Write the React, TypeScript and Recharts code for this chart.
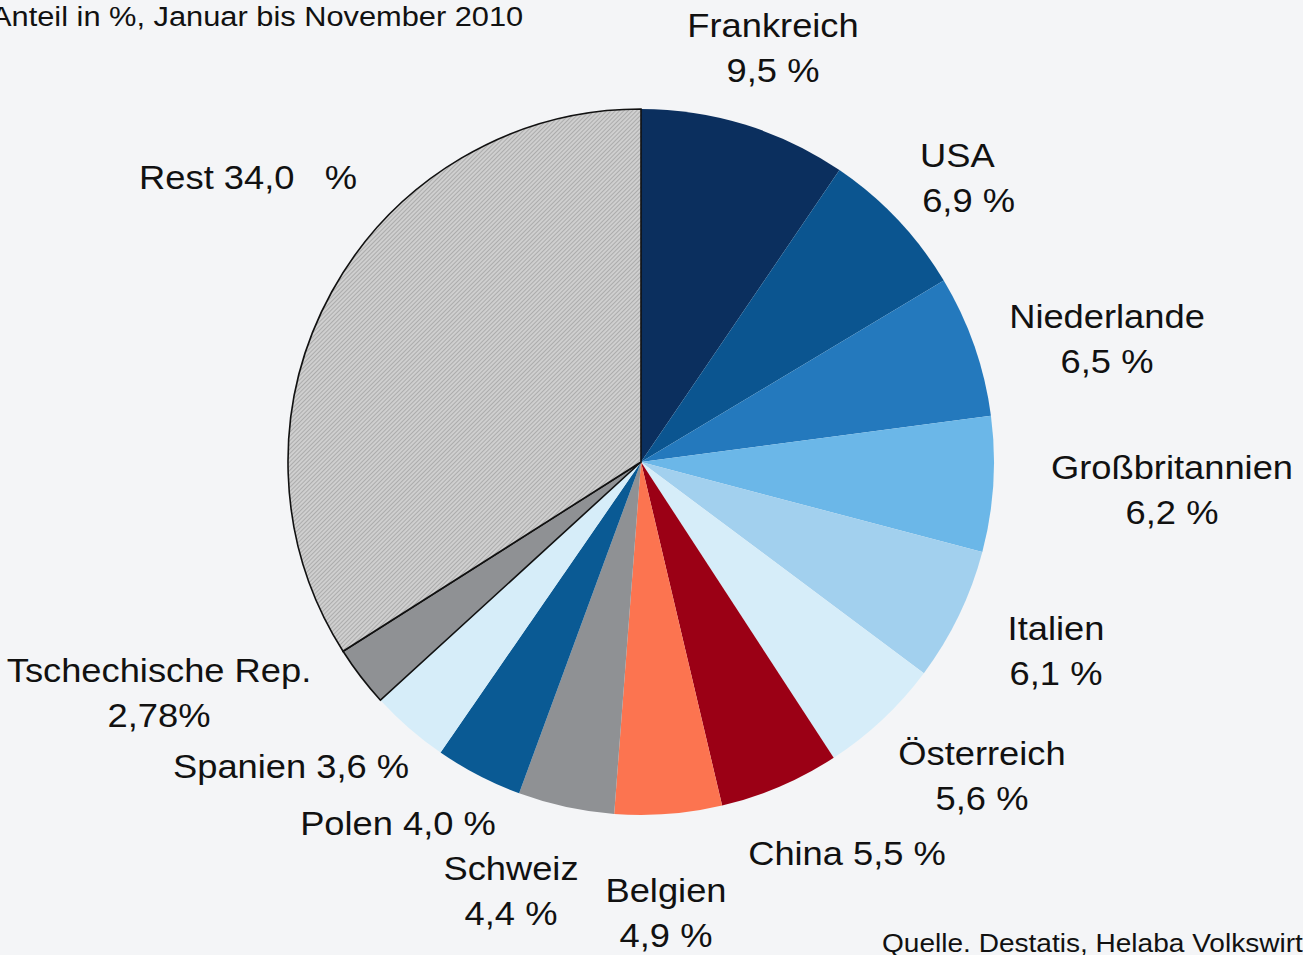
import { PieChart, Pie, Cell } from "recharts";

// Exportpartner, Anteil in %
const COUNTRIES = [
  "Frankreich",
  "USA",
  "Niederlande",
  "Großbritannien",
  "Italien",
  "Österreich",
  "China",
  "Belgien",
  "Schweiz",
  "Polen",
  "Spanien",
  "Tschechische Rep.",
  "Rest",
];
const SHARES = [9.5, 6.9, 6.5, 6.2, 6.1, 5.6, 5.5, 4.9, 4.4, 4.0, 3.6, 2.78, 34.0];
const SHARE_TEXT = [
  "9,5 %",
  "6,9 %",
  "6,5 %",
  "6,2 %",
  "6,1 %",
  "5,6 %",
  "5,5 %",
  "4,9 %",
  "4,4 %",
  "4,0 %",
  "3,6 %",
  "2,78%",
  "34,0\u00a0\u00a0 %",
];

const COLORS = [
  "#0b2f5e",
  "#0b5590",
  "#2479bd",
  "#6bb7e8",
  "#a2d0ee",
  "#d6edf9",
  "#9b0015",
  "#fc7450",
  "#8f9194",
  "#0a5a94",
  "#d6edf9",
  "#8f9194",
  "url(#restHatch)",
];
const OUTLINED = [false, false, false, false, false, false, false, false, false, false, false, true, true];

// label placement (page px): x, first baseline, anchor, one line or two
const LABEL_LAYOUT = [
  { x: 773, y: 37, anchor: "middle", inline: false },
  { x: 920, y: 167, anchor: "start", inline: false },
  { x: 1107, y: 328, anchor: "middle", inline: false },
  { x: 1172, y: 479, anchor: "middle", inline: false },
  { x: 1056, y: 640, anchor: "middle", inline: false },
  { x: 982, y: 765, anchor: "middle", inline: false },
  { x: 847, y: 865, anchor: "middle", inline: true },
  { x: 666, y: 902, anchor: "middle", inline: false },
  { x: 511, y: 880, anchor: "middle", inline: false },
  { x: 398, y: 835, anchor: "middle", inline: true },
  { x: 291, y: 778, anchor: "middle", inline: true },
  { x: 159, y: 682, anchor: "middle", inline: false },
  { x: 248, y: 189, anchor: "middle", inline: true },
];

const FONT = '"Liberation Sans", Arial, sans-serif';
const STRETCH = 1.1; // original type is a bit wide

const data = COUNTRIES.map((name, i) => ({ name, value: SHARES[i], share: SHARE_TEXT[i] }));

function renderLabel(props: any) {
  const i = props.index;
  const pos = LABEL_LAYOUT[i];
  const d = data[i];
  const common = {
    fill: "#111",
    fontFamily: FONT,
    fontSize: 33,
    textAnchor: pos.anchor,
  } as any;
  return (
    <g key={d.name} transform={`translate(${pos.x},${pos.y}) scale(${STRETCH},1)`}>
      {pos.inline ? (
        <text x={0} y={0} {...common}>
          {d.name + " " + d.share}
        </text>
      ) : (
        <text x={0} y={0} {...common}>
          <tspan x={0}>{d.name}</tspan>
          <tspan x={pos.anchor === "start" ? 2 : 0} dy={45}>
            {d.share}
          </tspan>
        </text>
      )}
    </g>
  );
}

export default function App() {
  return (
    <div style={{ position: "absolute", left: 0, top: 0, width: 1303, height: 955, background: "#f4f5f7" }}>
      <PieChart width={1303} height={955} margin={{ top: 0, right: 0, bottom: 0, left: 0 }}>
        <defs>
          <pattern id="restHatch" width="3" height="3" patternUnits="userSpaceOnUse" patternTransform="rotate(45)">
            <rect width="3" height="3" fill="#cfcfcf" />
            <line x1="0" y1="0" x2="0" y2="3" stroke="#949494" strokeWidth="1.2" />
          </pattern>
        </defs>
        <g transform={`translate(-9,26) scale(${STRETCH},1)`}>
          <text x={0} y={0} fontFamily={FONT} fontSize={28} fill="#111">
            Anteil in %, Januar bis November 2010
          </text>
        </g>
        <g transform={`translate(882,952) scale(${STRETCH},1)`}>
          <text x={0} y={0} fontFamily={FONT} fontSize={25.5} fill="#111">
            Quelle. Destatis, Helaba Volkswirtschaft/Research
          </text>
        </g>
        <Pie
          data={data}
          dataKey="value"
          nameKey="name"
          cx={641}
          cy={462}
          outerRadius={353}
          startAngle={90}
          endAngle={-270}
          label={renderLabel}
          labelLine={false}
          isAnimationActive={false}
        >
          {data.map((d, i) => (
            <Cell
              key={d.name}
              fill={COLORS[i]}
              stroke={OUTLINED[i] ? "#111" : "none"}
              strokeWidth={OUTLINED[i] ? 1.6 : 0}
            />
          ))}
        </Pie>
      </PieChart>
    </div>
  );
}
